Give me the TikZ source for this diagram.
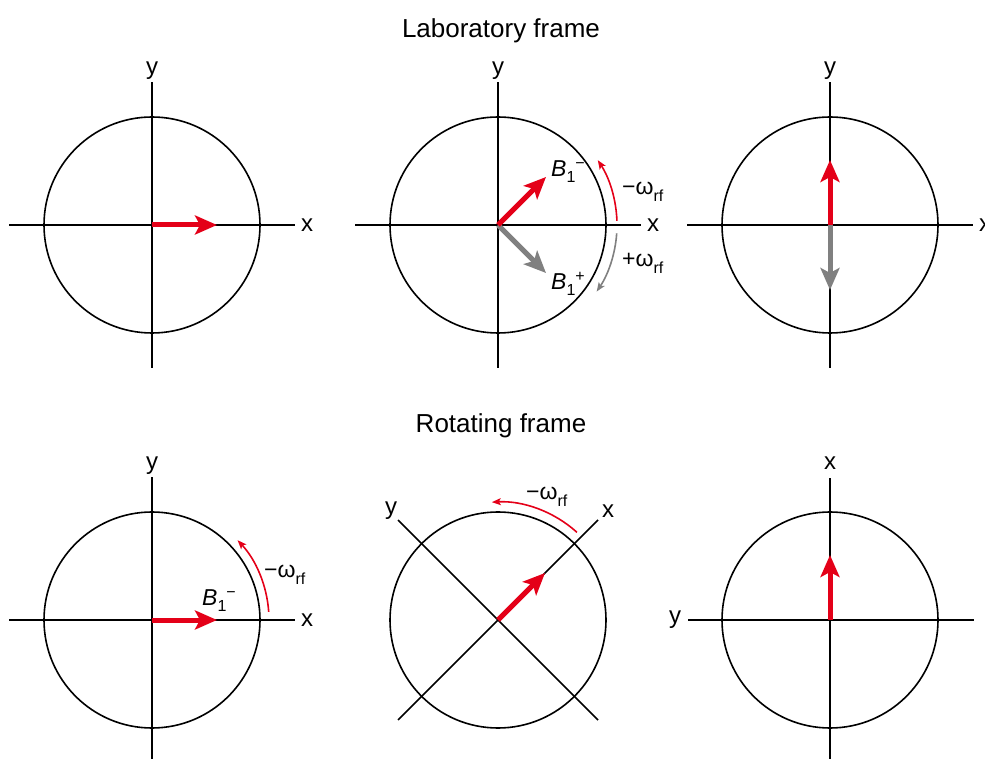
\documentclass[tikz,border=0pt]{standalone}
\usepackage{fontspec}
\setmainfont{Liberation Sans}
\usepackage{xcolor}
\usetikzlibrary{arrows.meta, calc}
\definecolor{vecred}{RGB}{228,0,24}
\definecolor{vecgray}{RGB}{128,128,128}
\newcommand{\omrf}[1]{#1ω\raisebox{-7pt}{\fontsize{16}{16}\selectfont rf}}
\newcommand{\Bone}[1]{\textit{B}\raisebox{-6pt}{\fontsize{16}{16}\selectfont 1}\raisebox{8pt}{\fontsize{16}{16}\selectfont #1}}
\tikzset{
  axisline/.style={line width=1.6pt, black},
  rim/.style={line width=1.6pt, black},
  fieldvec/.style={line width=5pt, -{Stealth[length=22pt,width=19pt,inset=5pt]}},
  rotarc/.style={line width=1.6pt, -{Stealth[length=9pt,width=7pt,inset=2pt]}},
  axlabel/.style={font=\fontsize{24}{24}\selectfont, inner sep=0pt},
  framelabel/.style={font=\fontsize{26}{26}\selectfont, inner sep=0pt},
  veclabel/.style={font=\fontsize{23}{23}\selectfont, inner sep=0pt, anchor=base west},
}

\begin{document}
\begin{tikzpicture}[x=1pt, y=1pt]
  \useasboundingbox (0,0) rectangle (985,758);
  \coordinate (o1) at (152,533);
  \coordinate (o2) at (498,533);
  \coordinate (o3) at (830,533);
  \coordinate (o4) at (152,138);
  \coordinate (o5) at (498,138);
  \coordinate (o6) at (830,138);

  \node[framelabel, anchor=base] (labtitle) at (501,720) {Laboratory frame};
  \node[framelabel, anchor=base] (rottitle) at (501,325) {Rotating frame};

  \foreach \c in {o1,o2,o3,o4,o5,o6}
    \draw[rim] (\c) circle[radius=108];

  % laboratory frame
  \foreach \c in {o1,o2,o3} {
    \draw[axisline] ($(\c)+(-143,0)$) -- ($(\c)+(143,0)$);
    \draw[axisline] ($(\c)+(0,-143)$) -- ($(\c)+(0,143)$);
    \node[axlabel] at ($(\c)+(0,154)$) {y};
    \node[axlabel] at ($(\c)+(155,0)$) {x};
  }
  \coordinate (t1) at (217,533);
  \draw[fieldvec, vecred] (o1) -- (t1);

  \coordinate (t2m) at (546,581);
  \coordinate (t2p) at (546,485);
  \draw[fieldvec, vecgray] (o2) -- (t2p);
  \draw[fieldvec, vecred] (o2) -- (t2m);
  \draw[rotarc, vecred] ($(o2)+(2:119)$) arc[start angle=2, end angle=33, radius=119];
  \draw[rotarc, vecgray] ($(o2)+(-4:119)$) arc[start angle=-4, end angle=-34, radius=119];
  \node[veclabel] (bm) at (551,581) {\Bone{−}};
  \node[veclabel] (bp) at (551,468) {\Bone{+}};
  \node[veclabel] (wm) at (622,563) {\omrf{−}};
  \node[veclabel] (wp) at (622,491) {\omrf{+}};

  \coordinate (t3m) at (830,598);
  \coordinate (t3p) at (830,468);
  \draw[fieldvec, vecgray] (o3) -- (t3p);
  \draw[fieldvec, vecred] (o3) -- (t3m);

  % rotating frame
  \draw[axisline] ($(o4)+(-143,0)$) -- ($(o4)+(143,0)$);
  \draw[axisline] ($(o4)+(0,-143)$) -- ($(o4)+(0,143)$);
  \node[axlabel] at ($(o4)+(0,154)$) {y};
  \node[axlabel] at ($(o4)+(155,0)$) {x};
  \coordinate (t4) at (217,138);
  \draw[fieldvec, vecred] (o4) -- (t4);
  \draw[rotarc, vecred] ($(o4)+(4:117)$) arc[start angle=4, end angle=43, radius=117];
  \node[veclabel] (b4) at (202,153) {\Bone{−}};
  \node[veclabel] (w4) at (264,180) {\omrf{−}};

  \draw[axisline] ($(o5)+(-100,-100)$) -- ($(o5)+(100,100)$);
  \draw[axisline] ($(o5)+(-100,100)$) -- ($(o5)+(100,-100)$);
  \node[axlabel] at ($(o5)+(110,109)$) {x};
  \node[axlabel] at ($(o5)+(-107,109)$) {y};
  \coordinate (t5) at (545,185);
  \draw[fieldvec, vecred] (o5) -- (t5);
  \draw[rotarc, vecred] ($(o5)+(48:118)$) arc[start angle=48, end angle=93, radius=118];
  \node[veclabel] (w5) at (526,258) {\omrf{−}};

  \draw[axisline] ($(o6)+(-142,0)$) -- ($(o6)+(144,0)$);
  \draw[axisline] ($(o6)+(0,-143)$) -- ($(o6)+(0,142)$);
  \node[axlabel] at ($(o6)+(0,157)$) {x};
  \node[axlabel] at ($(o6)+(-155,0)$) {y};
  \coordinate (t6) at (830,203);
  \draw[fieldvec, vecred] (o6) -- (t6);
\end{tikzpicture}
\end{document}
